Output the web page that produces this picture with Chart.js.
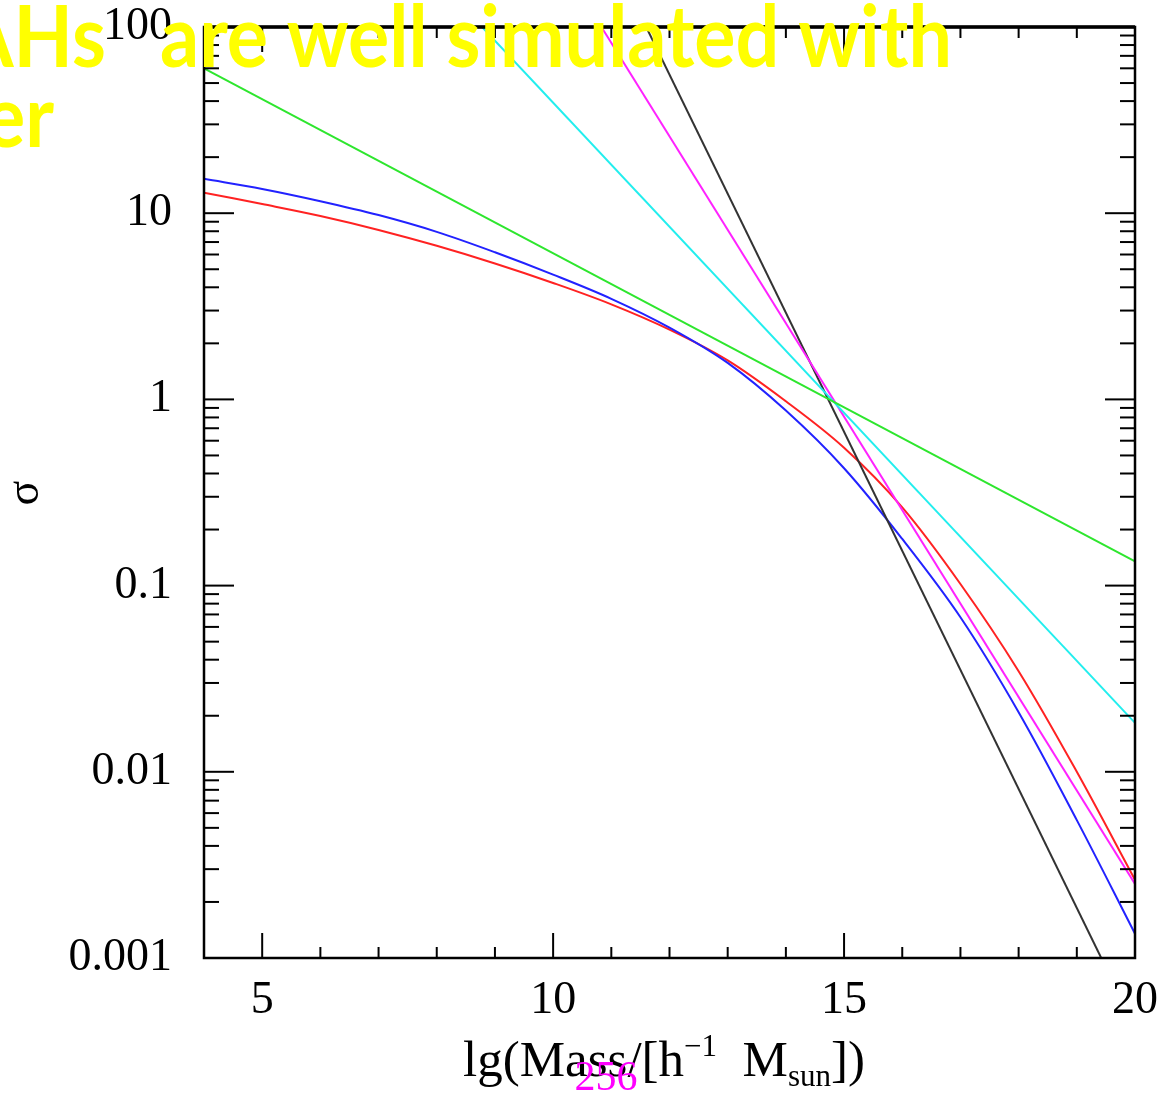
<!DOCTYPE html>
<html>
<head>
<meta charset="utf-8">
<script src="https://cdn.jsdelivr.net/npm/chart.js@4"></script>
<style>
html, body { margin: 0; padding: 0; background: #fff; }
canvas { display: block; }
</style>
</head>
<body>
<canvas id="sigmaChart" width="1170" height="1095"></canvas>
<script>
// lg(M) grid for the two curved spectra
const lgMass = [4, 5, 6, 7, 8, 9, 10, 11, 12, 13, 14, 15, 16, 17, 18, 19, 20];
const sigmaRed = [12.9, 11.2, 9.66, 8.13, 6.68, 5.37, 4.22, 3.24, 2.37, 1.62, 0.977, 0.55, 0.263, 0.102, 0.0347, 0.0100, 0.00263];
const sigmaBlue = [15.3, 13.5, 11.6, 9.77, 7.94, 6.17, 4.68, 3.47, 2.43, 1.57, 0.871, 0.427, 0.178, 0.0676, 0.0209, 0.0055, 0.00135];

const greenMass = [4, 20];
const greenSigma = [60, 0.135];
const cyanMass = [8.78, 20];
const cyanSigma = [100, 0.0183];
const magentaMass = [10.83, 20];
const magentaSigma = [100, 0.0025];
const blackMass = [11.6, 19.42];
const blackSigma = [100, 0.001];

const xTickValues = [5, 10, 15, 20];
const yTickValues = [0.001, 0.01, 0.1, 1, 10, 100];
const yTickLabels = ['0.001', '0.01', '0.1', '1', '10', '100'];

function pts(xs, ys) {
    return xs.map((v, i) => ({ x: v, y: ys[i] }));
}

function seg(ctx, x1, y1, x2, y2) {
    ctx.beginPath();
    ctx.moveTo(x1, y1);
    ctx.lineTo(x2, y2);
    ctx.stroke();
}

// frame with inward ticks on all four sides, titles and the slide overlay text
const framePlugin = {
    id: 'frame',
    afterDraw(chart) {
        const ctx = chart.ctx;
        const a = chart.chartArea;
        const x = chart.scales.x;
        const y = chart.scales.y;
        ctx.save();
        ctx.strokeStyle = '#000';
        ctx.lineWidth = 2.5;
        ctx.strokeRect(a.left, a.top, a.right - a.left, a.bottom - a.top);
        ctx.lineWidth = 3.5;
        seg(ctx, a.left, a.top, a.right, a.top);

        ctx.lineWidth = 2;
        for (let v = 5; v < 20; v++) {
            const len = v % 5 === 0 ? 25 : 11;
            const px = x.getPixelForValue(v);
            seg(ctx, px, a.bottom, px, a.bottom - len);
            seg(ctx, px, a.top, px, a.top + len);
        }
        for (let n = -3; n <= 1; n++) {
            for (let k = 1; k <= 9; k++) {
                const v = k * Math.pow(10, n);
                if (n === -3 && k === 1) continue;
                const len = k === 1 ? 30 : 15;
                const py = y.getPixelForValue(v);
                seg(ctx, a.left, py, a.left + len, py);
                seg(ctx, a.right, py, a.right - len, py);
            }
        }

        // x title with super/subscripts
        const parts = [
            { t: 'lg(Mass/[h', s: 51, dy: 0 },
            { t: '\u22121', s: 31, dy: -20 },
            { t: '  M', s: 51, dy: 0 },
            { t: 'sun', s: 31, dy: 10 },
            { t: '])', s: 51, dy: 0 }
        ];
        ctx.fillStyle = '#000';
        ctx.textBaseline = 'alphabetic';
        ctx.textAlign = 'left';
        let total = 0;
        parts.forEach(p => {
            ctx.font = p.s + 'px "Liberation Serif"';
            p.w = ctx.measureText(p.t).width;
            total += p.w;
        });
        let cx = 664 - total / 2;
        parts.forEach(p => {
            ctx.font = p.s + 'px "Liberation Serif"';
            ctx.fillText(p.t, cx, 1076 + p.dy);
            cx += p.w;
        });

        // y title
        ctx.save();
        ctx.translate(38, 493);
        ctx.rotate(-Math.PI / 2);
        ctx.font = '46px "Liberation Serif"';
        ctx.textAlign = 'center';
        ctx.fillText('\u03c3', 0, 0);
        ctx.restore();

        // page number
        ctx.fillStyle = '#ff00ff';
        ctx.font = '42px "Liberation Serif"';
        ctx.textAlign = 'center';
        ctx.fillText('256', 606, 1090);

        // yellow slide caption over the plot, stretched a little to look taller
        ctx.fillStyle = '#ffff00';
        ctx.font = 'bold 80px Lato';
        const w = ctx.measureText('are well simulated with').width;
        const size = 80 * 792 / w;
        ctx.font = 'bold ' + size + 'px Lato';
        ctx.save();
        ctx.translate(0, 67);
        ctx.scale(1, 1.12);
        ctx.textAlign = 'left';
        ctx.fillText('are well simulated with', 160, 0);
        ctx.textAlign = 'right';
        ctx.fillText('AHs', 106, 0);
        ctx.restore();
        ctx.save();
        ctx.translate(0, 147);
        ctx.scale(1, 1.12);
        ctx.textAlign = 'right';
        ctx.fillText('er', 54, 0);
        ctx.restore();
        ctx.restore();
    }
};

const ctx = document.getElementById('sigmaChart').getContext('2d');
const lineStyle = { showLine: true, pointRadius: 0, borderWidth: 2, fill: false };

new Chart(ctx, {
    type: 'scatter',
    data: {
        datasets: [
            Object.assign({ data: pts(greenMass, greenSigma), borderColor: '#2ee62e' }, lineStyle),
            Object.assign({ data: pts(cyanMass, cyanSigma), borderColor: '#22eeee' }, lineStyle),
            Object.assign({ data: pts(magentaMass, magentaSigma), borderColor: '#ff22ff' }, lineStyle),
            Object.assign({ data: pts(blackMass, blackSigma), borderColor: '#333333' }, lineStyle),
            Object.assign({ data: pts(lgMass, sigmaBlue), borderColor: '#2222ff', tension: 0.35 }, lineStyle),
            Object.assign({ data: pts(lgMass, sigmaRed), borderColor: '#ff2222', tension: 0.35 }, lineStyle)
        ]
    },
    options: {
        responsive: false,
        animation: false,
        devicePixelRatio: 1,
        layout: { padding: { top: 27, right: 35, left: 0, bottom: 0 } },
        plugins: {
            legend: { display: false },
            tooltip: { enabled: false }
        },
        scales: {
            x: {
                type: 'linear',
                min: 4,
                max: 20,
                grid: { display: false, drawTicks: false },
                border: { display: false },
                afterBuildTicks: axis => { axis.ticks = xTickValues.map(v => ({ value: v })); },
                afterFit: axis => {
                    axis.height = 137;
                    axis.paddingLeft = 0;
                    axis.paddingRight = 0;
                },
                ticks: {
                    padding: 15,
                    color: '#000',
                    font: { family: 'Liberation Serif', size: 46 },
                    maxRotation: 0,
                    callback: v => String(v)
                }
            },
            y: {
                type: 'logarithmic',
                min: 0.001,
                max: 100,
                grid: { display: false, drawTicks: false },
                border: { display: false },
                afterBuildTicks: axis => { axis.ticks = yTickValues.map(v => ({ value: v })); },
                afterFit: axis => {
                    axis.width = 204;
                    axis.paddingTop = 0;
                    axis.paddingBottom = 0;
                },
                ticks: {
                    padding: 32,
                    color: '#000',
                    font: { family: 'Liberation Serif', size: 46 },
                    callback: v => yTickLabels[yTickValues.indexOf(v)]
                }
            }
        }
    },
    plugins: [framePlugin]
});
</script>
</body>
</html>
